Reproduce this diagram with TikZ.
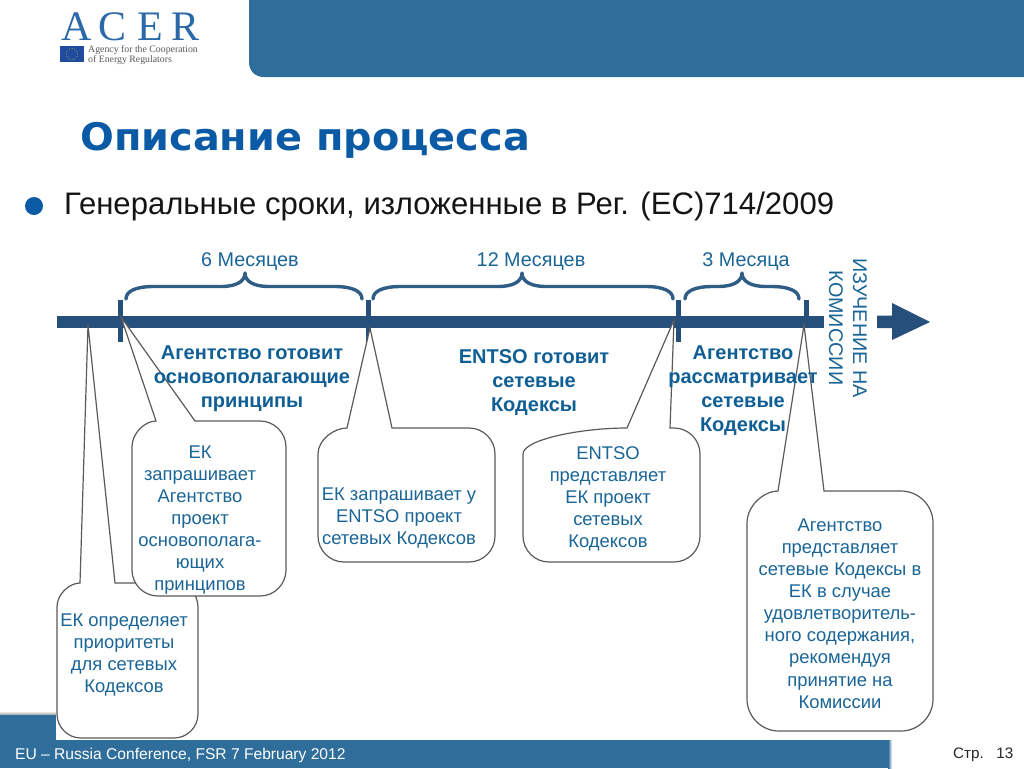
\documentclass[tikz,border=0pt]{standalone}
\usepackage{fontspec}
\setmainfont{Liberation Sans}
\newfontfamily\titlefont{DejaVu Sans}
\newfontfamily\logofont{Liberation Serif}
\definecolor{barblue}{HTML}{2F6E9A}
\definecolor{lineblue}{HTML}{264F7C}
\definecolor{bracecol}{HTML}{2F5D86}
\definecolor{textblue}{HTML}{1A6596}
\definecolor{boldblue}{HTML}{0F5F95}
\definecolor{titleblue}{HTML}{0A5AA5}
\definecolor{calloutline}{HTML}{5A5A5A}
\definecolor{logoblue}{HTML}{2A68A8}
\definecolor{flagblue}{HTML}{1F4C9E}
\tikzset{
  x=1pt,y=-1pt,
  boxtext/.style={text=textblue,align=center,inner sep=0pt,font=\fontsize{18.4}{22.1}\selectfont},
  boldtext/.style={text=boldblue,align=center,inner sep=0pt,font=\fontsize{20}{24}\selectfont\bfseries},
  monthtext/.style={text=textblue,inner sep=0pt,font=\fontsize{19.8}{24}\selectfont},
  calloutshape/.style={draw=calloutline,fill=white,line width=1.2pt},
  bracestyle/.style={draw=bracecol,line width=3.4pt,line cap=round,line join=round},
  tickstyle/.style={fill=lineblue},
  logoletter/.style={text=logoblue,inner sep=0pt,anchor=base,font=\fontsize{42}{42}\selectfont\logofont},
}
% x0 y0 x1 y1 r baseleft baseright tipname
\newcommand\acercallout[8]{%
  \draw[calloutshape] (#8) -- (#7,#2) -- ({#3-#5},#2)
    .. controls ({#3-0.45*#5},#2) and (#3,{#2+0.45*#5}) .. (#3,{#2+#5})
    -- (#3,{#4-#5})
    .. controls (#3,{#4-0.45*#5}) and ({#3-0.45*#5},#4) .. ({#3-#5},#4)
    -- ({#1+#5},#4)
    .. controls ({#1+0.45*#5},#4) and (#1,{#4-0.45*#5}) .. (#1,{#4-#5})
    -- (#1,{#2+#5})
    .. controls (#1,{#2+0.45*#5}) and ({#6-0.45*(#6-#1)},#2) .. (#6,#2)
    -- cycle;}
% x0 mid x1
\newcommand\acerbrace[3]{%
  \draw[bracestyle] (#1,299) .. controls (#1,291) and ({#1+10},286.5) .. ({#1+28},286.5)
    -- ({#2-24},286.5) .. controls ({#2-8},286.5) and (#2,281) .. (#2,273)
    .. controls (#2,281) and ({#2+8},286.5) .. ({#2+24},286.5)
    -- ({#3-28},286.5) .. controls ({#3-10},286.5) and (#3,291) .. (#3,299);}
\begin{document}
\begin{tikzpicture}
\useasboundingbox (0,0) rectangle (1024,768);
\fill[white] (0,0) rectangle (1024,768);
% top bar
\fill[barblue] (249,0) -- (1024,0) -- (1024,77) -- (264,77)
  .. controls (255,77) and (249,71) .. (249,62) -- cycle;
% logo
\node[logoletter] (logoA) at (76.5,41) {A};
\node[logoletter] (logoC) at (112.5,41) {C};
\node[logoletter] (logoE) at (150.5,41) {E};
\node[logoletter] (logoR) at (185.5,41) {R};
\fill[flagblue] (60,46) rectangle (84,62);
\foreach \a in {0,30,...,330}
  \fill[yellow!80!black] ({72+5.5*cos(\a)},{54+5.5*sin(\a)}) circle (0.5);
\node[inner sep=0pt,anchor=base west,text=black!65,font=\fontsize{9.8}{9.8}\selectfont\logofont] (logoT1) at (88,52.5) {Agency for the Cooperation};
\node[inner sep=0pt,anchor=base west,text=black!65,font=\fontsize{9.8}{9.8}\selectfont\logofont] (logoT2) at (88,63) {of Energy Regulators};
% title
\node[inner sep=0pt,anchor=base west,text=titleblue,xscale=1.047,font=\fontsize{38}{38}\selectfont\titlefont\bfseries] (title) at (80,150) {Описание процесса};
\fill[titleblue] (34,206) circle (9);
\node[inner sep=0pt,anchor=base west,font=\fontsize{31.1}{32}\selectfont,text=black!92] (sub) at (64,214) {Генеральные сроки, изложенные в Рег. (ЕС)714/2009};
% footer
\fill[barblue] (0,714) rectangle (56,740);
\shade[top color=white,bottom color=black!30] (0,711) rectangle (56,714);
\fill[barblue] (0,740) rectangle (888,768);
\shade[left color=barblue,right color=white] (888,740) rectangle (892,768);
\node[inner sep=0pt,anchor=base west,text=white,font=\fontsize{15.6}{16}\selectfont] (foot) at (15,759) {EU – Russia Conference, FSR 7 February 2012};
\node[inner sep=0pt,anchor=base west,text=black!85,font=\fontsize{15.2}{16}\selectfont] (page) at (953,758) {Стр.\ \ \ 13};
% timeline
\fill[lineblue] (57,315.5) rectangle (824,328);
\fill[lineblue] (877,315.5) -- (892,315.5) -- (892,303) -- (930,322) -- (892,340) -- (892,328) -- (877,328) -- cycle;
\fill[tickstyle] (117.5,300) rectangle (122.5,342);
\fill[tickstyle] (365.5,300) rectangle (370.5,342);
\fill[tickstyle] (675.5,300) rectangle (680.5,342);
\fill[tickstyle] (803.5,300) rectangle (808.5,328);
\acerbrace{126}{245}{362}
\acerbrace{373}{522}{673}
\acerbrace{685}{742}{799}
% callouts
\coordinate (tipF) at (88,325);
\coordinate (tipA) at (121,317);
\coordinate (tipB) at (370,328);
\coordinate (tipC) at (674,320);
\coordinate (tipD) at (804,325);
\acercallout{57}{583}{198}{738}{24}{80}{115}{tipF}
\acercallout{132}{421}{286}{596}{26}{156}{195}{tipA}
\acercallout{318}{428}{495}{562}{26}{347}{392}{tipB}
\acercallout{523}{428}{700}{562}{26}{627}{670}{tipC}
\acercallout{747}{491}{933}{731}{32}{778}{824}{tipD}
% month labels
\node[monthtext] (m6) at (250,262) {6 Месяцев};
\node[monthtext] (m12) at (531,262) {12 Месяцев};
\node[monthtext] (m3) at (746,262) {3 Месяца};
% vertical label
\node[monthtext,rotate=-90,align=center] (review) at (848,328) {ИЗУЧЕНИЕ НА\\КОМИССИИ};
% bold labels
\node[boldtext] (agA) at (252,378.5) {Агентство готовит\\основополагающие\\принципы};
\node[boldtext] (agB) at (534,382.5) {ENTSO готовит\\сетевые\\Кодексы};
\node[boldtext] (agC) at (743,390.5) {Агентство\\рассматривает\\сетевые\\Кодексы};
% box texts
\node[boxtext] (txtF) at (124,655) {ЕК определяет\\приоритеты\\для сетевых\\Кодексов};
\node[boxtext] (txtA) at (200,520) {ЕК\\запрашивает\\Агентство\\проект\\основополага-\\ющих\\принципов};
\node[boxtext] (txtB) at (399,518) {ЕК запрашивает у\\ENTSO проект\\сетевых Кодексов};
\node[boxtext] (txtC) at (608,499) {ENTSO\\представляет\\ЕК проект\\сетевых\\Кодексов};
\node[boxtext] (txtD) at (840,613.5) {Агентство\\представляет\\сетевые Кодексы в\\ЕК в случае\\удовлетворитель-\\ного содержания,\\рекомендуя\\принятие на\\Комиссии};
\end{tikzpicture}
\end{document}
